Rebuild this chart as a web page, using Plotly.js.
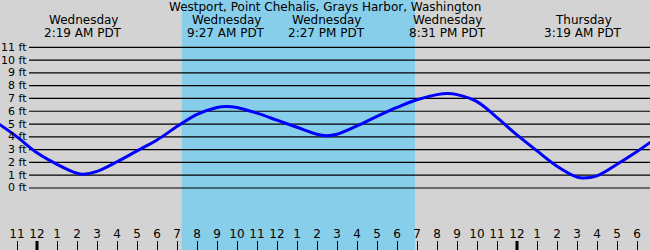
<!DOCTYPE html>
<html>
<head>
<meta charset="utf-8">
<script src="https://cdn.plot.ly/plotly-3.0.1.min.js"></script>
<style>html,body{margin:0;padding:0;background:#d3d3d3;}#chart{width:650px;height:250px;}</style>
</head>
<body>
<div id="chart"></div>
<script>
// Hours since Wednesday 12:00 AM PDT
const hours = [-2, -1, 0, 1, 2, 2.32, 3, 4, 5, 6, 7, 8, 9, 9.45, 10, 11, 12, 13, 14, 14.45, 15, 16, 17, 18, 19, 20, 20.52, 21, 22, 23, 24, 25, 26, 27, 27.32, 28, 29, 30, 31];
const heights = [5.1, 4.0, 2.75, 1.85, 1.15, 1.08, 1.3, 2.05, 2.9, 3.75, 4.8, 5.75, 6.3, 6.38, 6.3, 5.85, 5.3, 4.75, 4.2, 4.08, 4.2, 4.85, 5.6, 6.3, 6.9, 7.3, 7.38, 7.3, 6.75, 5.5, 4.15, 2.9, 1.7, 0.85, 0.78, 0.95, 1.85, 2.85, 3.95];

const extremeHours = [2.32, 9.45, 14.45, 20.52, 27.32];
const extremeDays = ["Wednesday", "Wednesday", "Wednesday", "Wednesday", "Thursday"];
const extremeTimes = ["2:19 AM PDT", "9:27 AM PDT", "2:27 PM PDT", "8:31 PM PDT", "3:19 AM PDT"];

const daylight = [7.235, 18.9]; // sunrise, sunset
const midnights = [0, 24];

const tickHours = [-2,-1,0,1,2,3,4,5,6,7,8,9,10,11,12,13,14,15,16,17,18,19,20,21,22,23,24,25,26,27,28,29,30];
const tickLabels = ["10","11","12","1","2","3","4","5","6","7","8","9","10","11","12","1","2","3","4","5","6","7","8","9","10","11","12","1","2","3","4","5","6"];

const levels = [0,1,2,3,4,5,6,7,8,9,10,11];
const levelLabels = ["0 ft","1 ft","2 ft","3 ft","4 ft","5 ft","6 ft","7 ft","8 ft","9 ft","10 ft","11 ft"];

const title = "Westport, Point Chehalis, Grays Harbor, Washington";

const FONT = "DejaVu Sans, sans-serif";
const W = 650, H = 250;

const shapes = [];
shapes.push({type:'rect', xref:'x', yref:'paper', x0:daylight[0], x1:daylight[1], y0:0, y1:1,
  fillcolor:'#87ceeb', line:{width:0}, layer:'below'});
levels.forEach(v => shapes.push({type:'line', xref:'paper', yref:'y', x0:29/W, x1:1, y0:v, y1:v,
  line:{color:'#000000', width:1.2}, layer:'below'}));
midnights.forEach(m => shapes.push({type:'line', xref:'x', yref:'paper', x0:m, x1:m, y0:0, y1:9/H,
  line:{color:'#000000', width:3}, layer:'above'}));

const annotations = [];
levels.forEach((v,i) => annotations.push({xref:'paper', yref:'y', x:27.5/W, y:v, text:levelLabels[i],
  xanchor:'right', yanchor:'middle', showarrow:false, borderpad:0, font:{family:FONT, size:11, color:'#000'}}));
extremeHours.forEach((h,i) => {
  annotations.push({xref:'x', yref:'paper', x:h, y:1-20/H, text:extremeDays[i], xanchor:'center', yanchor:'middle',
    showarrow:false, borderpad:0, font:{family:FONT, size:12, color:'#000'}});
  annotations.push({xref:'x', yref:'paper', x:h, y:1-32.5/H, text:extremeTimes[i], xanchor:'center', yanchor:'middle',
    showarrow:false, borderpad:0, font:{family:FONT, size:12, color:'#000'}});
});
annotations.push({xref:'paper', yref:'paper', x:0.5, y:1-7/H, text:title, xanchor:'center', yanchor:'middle',
  showarrow:false, borderpad:0, font:{family:FONT, size:12, color:'#000'}});

const trace = {x:hours, y:heights, type:'scatter', mode:'lines',
  line:{color:'#0000ff', width:3, shape:'spline', smoothing:1}, hoverinfo:'skip'};

const layout = {
  width:W, height:H,
  margin:{l:0, r:0, t:0, b:0, pad:0},
  paper_bgcolor:'#d3d3d3', plot_bgcolor:'#d3d3d3',
  showlegend:false,
  font:{family:FONT, size:12, color:'#000'},
  xaxis:{range:[-1.85, 30.65], showgrid:false, zeroline:false, showline:false,
    tickmode:'array', tickvals:tickHours, ticktext:tickLabels,
    ticks:'inside', ticklen:9, tickwidth:1, tickcolor:'#000',
    ticklabelposition:'inside', ticklabelstandoff:0,
    tickfont:{family:FONT, size:12, color:'#000'}},
  yaxis:{range:[-4.85, 14.70], showgrid:false, zeroline:false, showline:false,
    showticklabels:false, ticks:''},
  shapes:shapes, annotations:annotations,
  hovermode:false
};

Plotly.newPlot('chart', [trace], layout, {displayModeBar:false, staticPlot:true});
</script>
</body>
</html>
